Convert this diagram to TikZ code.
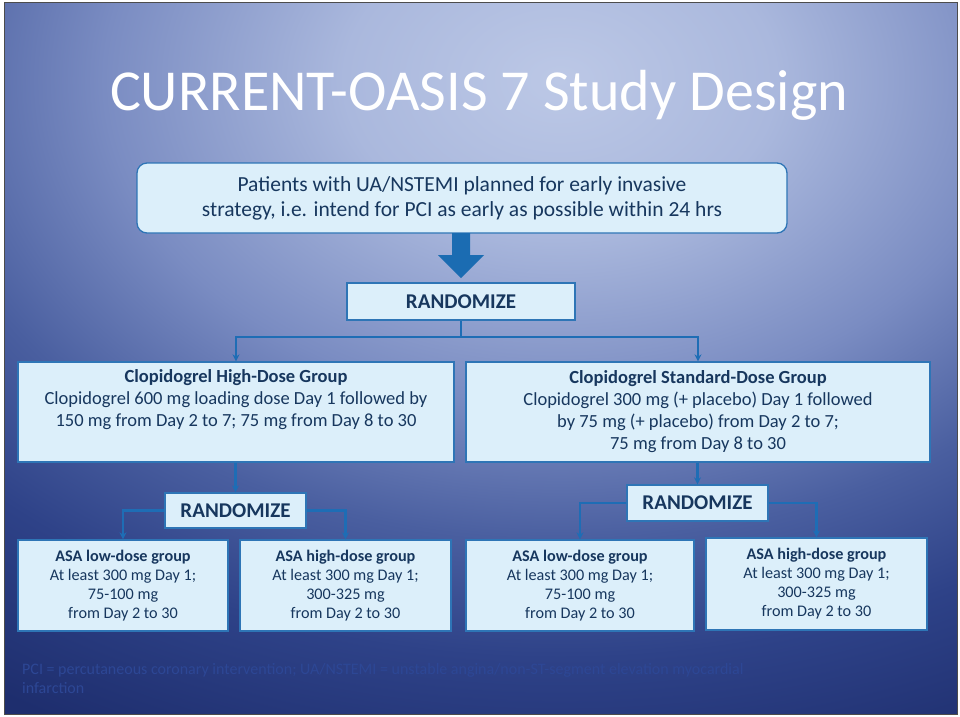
\documentclass[tikz,border=0pt]{standalone}
\usepackage{fontspec}
\setmainfont{Carlito}
\usetikzlibrary{arrows.meta}
\definecolor{txtc}{HTML}{17375E}
\definecolor{boxfill}{HTML}{DCEFFA}
\definecolor{boxline}{HTML}{2E75B6}
\definecolor{conn}{HTML}{1E6DB5}
\definecolor{bigarrow}{HTML}{1B6CB2}
\definecolor{footc}{HTML}{2D4795}
\definecolor{bgA}{HTML}{BCC8E6}
\definecolor{bgB}{HTML}{AAB8DD}
\definecolor{bgC}{HTML}{7A8CC2}
\definecolor{bgD}{HTML}{4A5FA0}
\definecolor{bgE}{HTML}{2E4288}
\definecolor{bgF}{HTML}{1E2E6E}
\pgfdeclareradialshading{bgshade}{\pgfpoint{0bp}{0bp}}{color(0bp)=(bgA); color(4.5bp)=(bgB); color(9.5bp)=(bgC); color(13.5bp)=(bgD); color(17bp)=(bgE); color(21.5bp)=(bgF); color(25bp)=(bgF); color(50bp)=(bgF)}
\tikzset{
  box/.style={draw=boxline, line width=1.3pt, fill=boxfill, text=txtc, align=center, inner sep=0pt},
  bodytxt/.style={font=\fontsize{18.5}{22}\selectfont},
  smalltxt/.style={font=\fontsize{16.2}{19}\selectfont},
  randtxt/.style={font=\fontsize{21}{22}\selectfont\bfseries},
  conn/.style={draw=conn, line width=2.6pt, -{Stealth[length=7pt,width=7pt]}},
  connplain/.style={draw=conn, line width=2.6pt}
}
\begin{document}
\begin{tikzpicture}[x=1pt,y=-1pt]
\useasboundingbox (0,0) rectangle (960,716);
\fill[white] (0,0) rectangle (960,716);
\begin{scope}
\clip (4,2) rectangle (957,714);
\shade[shading=bgshade] (560,80) ellipse (1200 and 850);
\end{scope}
\draw[black!70, line width=0.8pt] (4,2) rectangle (957,714);

\node[text=white, font=\fontsize{58}{60}\selectfont, anchor=base] (title) at (479,110) {CURRENT-OASIS 7 Study Design};

\node[box, rounded corners=10pt, minimum width=650, minimum height=70, font=\fontsize{21.5}{25}\selectfont] (pat) at (462,198) {Patients with UA/NSTEMI planned for early invasive\\strategy, i.e. intend for PCI as early as possible within 24 hrs};

\fill[bigarrow] (452,233) -- (470,233) -- (470,255) -- (484,255) -- (461,278) -- (438,255) -- (452,255) -- cycle;
\coordinate (arrowtip) at (461,278);

\node[box, minimum width=228, minimum height=37, randtxt] (r1) at (461,301.5) {RANDOMIZE};

\node[box, minimum width=436, minimum height=100, bodytxt] (hd) at (236,412) {\textbf{Clopidogrel High-Dose Group}\\Clopidogrel 600 mg loading dose Day 1 followed by\\150 mg from Day 2 to 7; 75 mg from Day 8 to 30\\\strut};
\node[box, minimum width=464, minimum height=100, bodytxt] (sd) at (698,412) {\textbf{Clopidogrel Standard-Dose Group}\\Clopidogrel 300 mg (+ placebo) Day 1 followed\\by 75 mg (+ placebo) from Day 2 to 7;\\75 mg from Day 8 to 30};

\coordinate (split) at (461,337);
\draw[connplain] (r1.south) -- (split);
\draw[conn] (split) -| (hd.north);
\draw[conn] (split) -| (sd.north);

\node[box, minimum width=141, minimum height=35, randtxt] (r2) at (235.5,510.5) {RANDOMIZE};
\node[box, minimum width=141, minimum height=36, randtxt] (r3) at (697.5,503) {RANDOMIZE};

\node[box, minimum width=210, minimum height=91, smalltxt] (a1) at (123,585.5) {\textbf{ASA low-dose group}\\At least 300 mg Day 1;\\75-100 mg\\from Day 2 to 30};
\node[box, minimum width=211, minimum height=91, smalltxt] (a2) at (345.5,585.5) {\textbf{ASA high-dose group}\\At least 300 mg Day 1;\\300-325 mg\\from Day 2 to 30};
\node[box, minimum width=228, minimum height=91, smalltxt] (a3) at (580,585.5) {\textbf{ASA low-dose group}\\At least 300 mg Day 1;\\75-100 mg\\from Day 2 to 30};
\node[box, minimum width=221, minimum height=92, smalltxt] (a4) at (816.5,584) {\textbf{ASA high-dose group}\\At least 300 mg Day 1;\\300-325 mg\\from Day 2 to 30};

\draw[conn] (hd.south -| r2.north) -- (r2.north);
\draw[conn] (sd.south -| r3.north) -- (r3.north);
\draw[conn] (r2.west) -| (a1.north);
\draw[conn] (r2.east) -| (a2.north);
\draw[conn] (r3.west) -| (a3.north);
\draw[conn] (r3.east) -| (a4.north);

\node[text=footc, anchor=north west, align=left, font=\fontsize{16}{19}\selectfont, inner sep=0pt] (foot) at (22,663) {PCI = percutaneous coronary intervention; UA/NSTEMI = unstable angina/non-ST-segment elevation myocardial\\infarction};
\end{tikzpicture}
\end{document}
